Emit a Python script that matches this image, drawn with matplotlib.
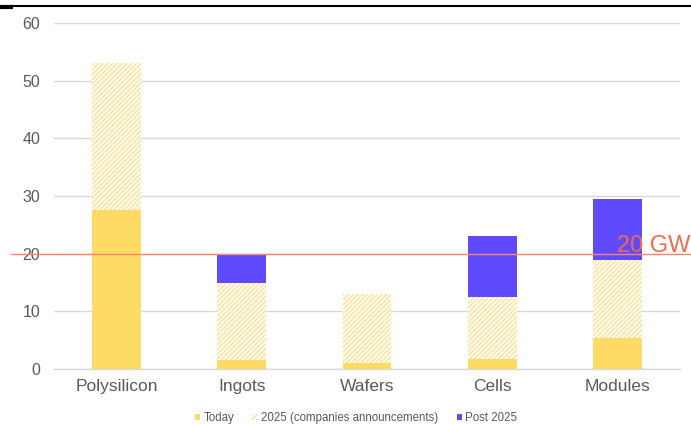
import matplotlib
matplotlib.use("Agg")
import matplotlib.pyplot as plt
from matplotlib.patches import Patch
from matplotlib.lines import Line2D
import matplotlib.transforms as mtransforms
import numpy as np

plt.rcParams['font.family'] = ['Liberation Sans', 'DejaVu Sans']
plt.rcParams['hatch.linewidth'] = 1.0

categories = ["Polysilicon", "Ingots", "Wafers", "Cells", "Modules"]
today = [27.5, 1.5, 1.0, 1.7, 5.4]
by_2025 = [25.5, 13.5, 12.0, 10.8, 13.5]
post_2025 = [0.0, 5.0, 0.0, 10.5, 10.5]
threshold = 20
threshold_label = "20 GW"
yticks = [0, 10, 20, 30, 40, 50, 60]

YELLOW = "#FFDB65"
HATCH = "#FFE08A"
PURPLE = "#5F4BFD"
RED = "#F4876B"
GRAY = "#595959"

fig = plt.figure(figsize=(6.91, 4.24), dpi=100)
ax = fig.add_axes([54/691, 1-369/424, 626/691, 346/424])

x = np.arange(len(categories))
w = 0.39
today = np.array(today)
by_2025 = np.array(by_2025)
post_2025 = np.array(post_2025)

ax.bar(x, today, w, color=YELLOW, linewidth=0, zorder=3)
ax.bar(x, by_2025, w, bottom=today, facecolor="white", edgecolor=HATCH,
       hatch="///////", linewidth=0, zorder=3)
ax.bar(x, post_2025, w, bottom=today + by_2025, color=PURPLE, linewidth=0, zorder=3)

ax.set_xlim(-0.5, len(categories) - 0.5)
ax.set_ylim(0, 60)
ax.set_yticks(yticks)
ax.set_xticks(x)
ax.set_xticklabels(categories, fontsize=12.5, color=GRAY)
ax.tick_params(axis='y', labelsize=11.5, labelcolor=GRAY, length=0, pad=10)
ax.tick_params(axis='x', length=0, pad=7)
ax.grid(axis='y', color="#D9D9D9", linewidth=1, zorder=0)
for s in ["top", "right", "left"]:
    ax.spines[s].set_visible(False)
ax.spines["bottom"].set_color("#D9D9D9")
ax.spines["bottom"].set_linewidth(1)

# threshold line spanning the full width
trans = mtransforms.blended_transform_factory(ax.transAxes, ax.transData)
ax.plot([(11-54)/626, (691-54)/626], [threshold, threshold], color=RED,
        linewidth=1, transform=trans, clip_on=False, zorder=4)
ax.text(1.0 + 10/626, threshold + 0.35, threshold_label, transform=trans,
        ha="right", va="baseline", fontsize=17, color="#F26B4A", zorder=5)

# header rule
fig.add_artist(Line2D([11/691, 1], [1-6/424, 1-6/424], color="black", linewidth=1.5))
fig.add_artist(Line2D([0, 11/691], [1-7/424, 1-7/424], color="black", linewidth=3))

handles = [
    Patch(facecolor=YELLOW, linewidth=0),
    Patch(facecolor="white", edgecolor=HATCH, hatch="///////", linewidth=0),
    Patch(facecolor=PURPLE, linewidth=0),
]
labels = ["Today", "2025 (companies announcements)", "Post 2025"]
fig.legend(handles, labels, loc="center", bbox_to_anchor=(356/691, 1-418/424),
           ncol=3, frameon=False, fontsize=8.3, handlelength=0.5, handleheight=0.5,
           handletextpad=0.25, columnspacing=1.6, labelcolor=GRAY)

fig.savefig("out.png", dpi=100)
